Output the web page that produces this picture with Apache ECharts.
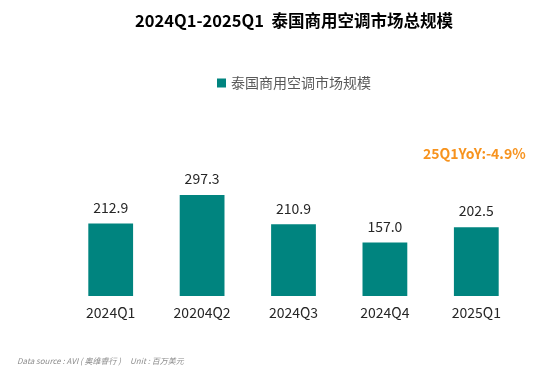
<!DOCTYPE html>
<html><head><meta charset="utf-8">
<script src="https://cdn.jsdelivr.net/npm/echarts@6/dist/echarts.min.js"></script>
<style>html,body{margin:0;padding:0;background:#fff}#c{width:533px;height:386px}</style>
</head><body><div id="c"></div>
<script>
const categories = ['2024Q1', '20204Q2', '2024Q3', '2024Q4', '2025Q1'];
const values = [212.9, 297.3, 210.9, 157.0, 202.5];
const seriesName = '泰国商用空调市场规模';
const titleText = '2024Q1-2025Q1  泰国商用空调市场总规模';
const yoyText = '25Q1YoY:-4.9%';
const sourceText = 'Data source : AVI ( 奥维睿行 )     Unit : 百万美元';

const FF = '"Microsoft YaHei","Noto Sans CJK SC",sans-serif';
const chart = echarts.init(document.getElementById('c'));
chart.setOption({
  animation: false,
  title: {
    text: titleText, left: 289, textAlign: 'center', top: 7,
    textStyle: {fontFamily: FF, fontSize: 16.5, fontWeight: 'bold', color: '#000'}
  },
  legend: {
    data: [seriesName], left: 212, top: 71, itemWidth: 9, itemHeight: 9,
    icon: 'rect', itemGap: 5,
    textStyle: {fontFamily: FF, fontSize: 14, color: '#595959'}
  },
  graphic: [
    {type: 'text', left: 423, top: 147, style: {text: yoyText, fill: '#f7931e', font: 'bold 14px ' + FF}},
    {type: 'text', left: 17, top: 357, style: {text: sourceText, fill: '#8c8c8c', font: 'italic 8px ' + FF}}
  ],
  grid: {left: 65, right: 11, top: 92, bottom: 90},
  xAxis: {
    type: 'category', data: categories,
    axisLine: {show: false}, axisTick: {show: false},
    axisLabel: {fontFamily: FF, fontSize: 14, color: '#262626', margin: 10}
  },
  yAxis: {type: 'value', min: 0, max: 600, show: false, splitLine: {show: false}},
  series: [{
    name: seriesName, type: 'bar', data: values, barWidth: '49%',
    itemStyle: {color: '#00847f'},
    label: {show: true, position: 'top', distance: 9, fontFamily: FF, fontSize: 14, color: '#262626',
      formatter: p => p.value.toFixed(1)}
  }]
});
</script></body></html>
